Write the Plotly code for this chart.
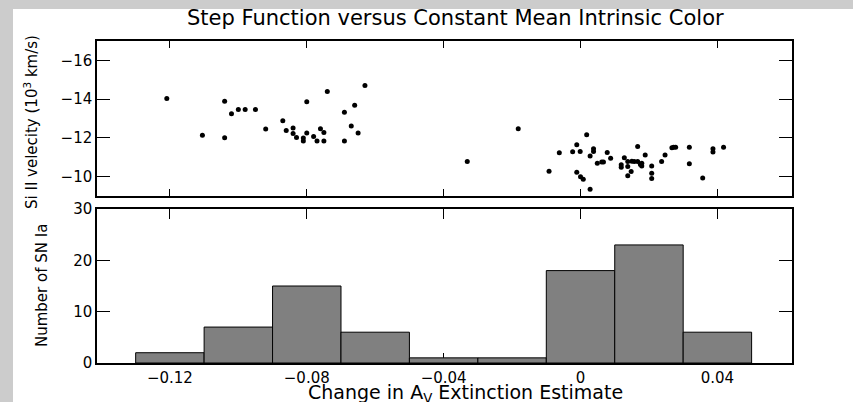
import plotly.graph_objects as go

# ---- data ----
shift = [-0.1209, -0.1105, -0.104, -0.104, -0.102, -0.100, -0.098, -0.095, -0.092, -0.087,
         -0.086, -0.084, -0.084, -0.083, -0.081, -0.081, -0.080, -0.080, -0.078, -0.077,
         -0.076, -0.075, -0.075, -0.074, -0.069, -0.069, -0.067, -0.066, -0.065, -0.063,
         -0.0331, -0.0182, -0.0092, -0.0062, -0.0023, -0.0011, -0.0001, -0.0011, 0.0000, 0.0008,
         0.0018, 0.0028, 0.0028, 0.0038, 0.0038, 0.0049, 0.0062, 0.0067, 0.0078, 0.0088,
         0.0119, 0.0119, 0.0128, 0.0138, 0.0138, 0.0138, 0.0148, 0.0157, 0.0167, 0.0167,
         0.0179, 0.0179, 0.0189, 0.0208, 0.0208, 0.0208, 0.0237, 0.0247, 0.0267, 0.0272,
         0.0278, 0.0150, 0.0175,
         0.0318, 0.0318, 0.0357, 0.0387, 0.0387, 0.0418]
velocity = [-14.03, -12.13, -13.89, -12.01, -13.25, -13.47, -13.46, -13.46, -12.46, -12.89,
            -12.38, -12.51, -12.23, -12.02, -11.99, -11.84, -13.86, -12.25, -12.07, -11.84,
            -12.47, -12.28, -11.84, -14.39, -13.32, -11.84, -12.61, -13.68, -12.25, -14.70,
            -10.78, -12.47, -10.28, -11.23, -11.28, -11.64, -11.30, -10.23, -10.00, -9.86,
            -12.16, -9.35, -11.07, -11.44, -11.30, -10.69, -10.75, -10.75, -11.24, -10.95,
            -10.61, -10.49, -10.97, -10.78, -10.52, -10.04, -10.26, -10.78, -11.56, -10.78,
            -10.69, -10.55, -11.12, -10.55, -10.18, -9.90, -10.78, -11.12, -11.49, -11.52,
            -11.52, -10.80, -10.62,
            -11.52, -10.66, -9.93, -11.44, -11.27, -11.52]

bin_centers = [-0.12, -0.10, -0.08, -0.06, -0.04, -0.02, 0.0, 0.02, 0.04]
bin_counts = [2, 7, 15, 6, 1, 1, 18, 23, 6]
bin_width = 0.02

x_ticks = [-0.12, -0.08, -0.04, 0.0, 0.04]
x_ticktext = ["\u22120.12", "\u22120.08", "\u22120.04", "0", "0.04"]
v_ticks = [-16, -14, -12, -10]
v_ticktext = ["\u221216", "\u221214", "\u221212", "\u221210"]
n_ticks = [0, 10, 20, 30]
n_ticktext = ["0", "10", "20", "30"]

title_text = "Step Function versus Constant Mean Intrinsic Color"
xtitle_text = "Change in A<sub>V</sub> Extinction Estimate"
ytop_text = "Si II velecity (10<sup>3</sup> km/s)"
ybot_text = "Number of SN Ia"

# ---- layout geometry (pixels) ----
W, H = 853, 402
L, R, T, B = 97, 61, 41, 39
PW, PH = W - L - R, H - T - B

def px_x(p):
    return (p - L) / PW

def px_y(p):
    return (H - B - p) / PH

FONT = "DejaVu Sans"
GRAY = "#cccccc"

fig = go.Figure()
fig.add_trace(go.Scatter(x=shift, y=velocity, mode="markers",
                         marker=dict(color="black", size=5),
                         xaxis="x", yaxis="y", showlegend=False))
fig.add_trace(go.Bar(x=bin_centers, y=bin_counts, width=bin_width,
                     marker=dict(color="#808080", line=dict(color="black", width=1)),
                     xaxis="x2", yaxis="y2", showlegend=False))

xr = [-0.1413, 0.0618]
common = dict(showline=True, linecolor="black", linewidth=1.5, mirror="ticks",
              ticks="inside", tickcolor="black", tickwidth=1, showgrid=False,
              zeroline=False, tickfont=dict(family=FONT, size=15, color="black"))

fig.update_layout(
    width=W, height=H,
    margin=dict(l=L, r=R, t=T, b=B, autoexpand=False),
    paper_bgcolor="white", plot_bgcolor="white",
    xaxis=dict(domain=[0, 1], anchor="y", range=xr, tickvals=x_ticks,
               showticklabels=False, ticklen=7, **common),
    yaxis=dict(domain=[px_y(196), 1], anchor="x", range=[-9, -17],
               tickvals=v_ticks, ticktext=v_ticktext, ticklen=13, **common),
    xaxis2=dict(domain=[0, 1], anchor="y2", range=xr, tickvals=x_ticks,
                ticktext=x_ticktext, ticklen=10, layer="below traces", **common),
    yaxis2=dict(domain=[0, px_y(209)], anchor="x2", range=[0, 30],
                tickvals=n_ticks, ticktext=n_ticktext, ticklen=13,
                layer="below traces", **common),
    shapes=[
        dict(type="rect", xref="paper", yref="paper", layer="below",
             x0=px_x(0), x1=px_x(13), y0=px_y(H), y1=px_y(0),
             fillcolor=GRAY, line=dict(width=0)),
        dict(type="rect", xref="paper", yref="paper", layer="below",
             x0=px_x(0), x1=px_x(W), y0=px_y(9), y1=px_y(0),
             fillcolor=GRAY, line=dict(width=0)),
    ],
    annotations=[
        dict(text=title_text, xref="paper", yref="paper", x=px_x(455), y=px_y(18),
             xanchor="center", yanchor="middle", showarrow=False,
             font=dict(family=FONT, size=21, color="black")),
        dict(text=xtitle_text, xref="paper", yref="paper", x=px_x(465), y=px_y(379),
             xanchor="center", yanchor="top", showarrow=False,
             font=dict(family=FONT, size=19, color="black")),
        dict(text=ytop_text, xref="paper", yref="paper", x=px_x(31), y=px_y(122),
             xanchor="center", yanchor="middle", textangle=-90, showarrow=False,
             font=dict(family=FONT, size=15, color="black")),
        dict(text=ybot_text, xref="paper", yref="paper", x=px_x(42), y=px_y(286),
             xanchor="center", yanchor="middle", textangle=-90, showarrow=False,
             font=dict(family=FONT, size=15, color="black")),
    ],
)

fig.write_html("out.html")
